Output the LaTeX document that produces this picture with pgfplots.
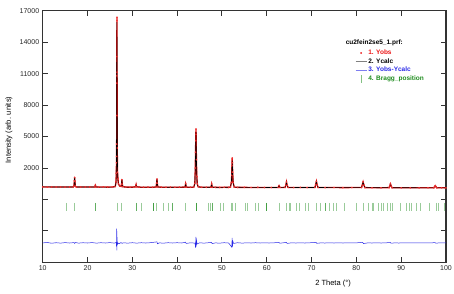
\documentclass[border=0pt]{standalone}
\usepackage{pgfplots}
\pgfplotsset{compat=1.18}
\usepackage{fontspec}
\setmainfont{Liberation Sans}
\definecolor{obsred}{RGB}{235,20,20}
\definecolor{braggg}{RGB}{30,140,30}
\definecolor{difblue}{RGB}{40,40,230}

\begin{document}
\begin{tikzpicture}
\useasboundingbox (-42.7pt,-30.7pt) rectangle (411.3pt,262.3pt);
\begin{axis}[
  scale only axis, width=403.3pt, height=251.6pt,
  xmin=10, xmax=100, ymin=-7000, ymax=17000,
  xtick={10,20,...,100},
  ytick={-4000,-1000,2000,5000,8000,11000,14000,17000},
  yticklabels={,,2000,5000,8000,11000,14000,17000},
  scaled y ticks=false, scaled x ticks=false,
  tick align=inside,
  major tick length=5pt,
  tick style={line width=0.9pt, black!80},
  axis line style={line width=1.3pt, black!80},
  tick label style={font=\fontsize{7}{8}\selectfont, text=black!85},
  /pgf/number format/assume math mode=true,
  xlabel={2 Theta (°)},
  ylabel={Intensity (arb. units)},
  every axis x label/.style={at={(axis description cs:0.72,-0.086)}, anchor=center, font=\fontsize{7.5}{9}\selectfont},
  every axis y label/.style={at={(axis description cs:-0.0836,0.526)}, rotate=90, anchor=center, font=\fontsize{7.5}{9}\selectfont},
  legend style={draw=none, fill=none, at={(rel axis cs:0.774,0.849)}, anchor=north west,
    font=\bfseries\fontsize{6.5}{7.5}\selectfont, row sep=0.3pt, inner sep=0pt,
    nodes={inner sep=1pt}},
  legend cell align=left,
]
\addlegendimage{legend image code/.code={\path[draw=none,fill=none] (0,-1pt) rectangle (11pt,2pt); \fill[obsred,draw=none] (5.5pt,0) circle (1pt);}}
\addlegendentry{\textcolor{obsred}{1. Yobs}}
\addlegendimage{legend image code/.code={\path[draw=none,fill=none] (0,-1pt) rectangle (11pt,2pt); \draw[black!50,line width=1.3pt,fill=none] (0,0) -- (11pt,0);}}
\addlegendentry{2. Ycalc}
\addlegendimage{legend image code/.code={\path[draw=none,fill=none] (0,-1pt) rectangle (11pt,2pt); \draw[difblue!60,line width=0.5pt,fill=none] (0,0) -- (11pt,0);}}
\addlegendentry{\textcolor{difblue}{3. Yobs-Ycalc}}
\addlegendimage{legend image code/.code={\path[draw=none,fill=none] (0,-1pt) rectangle (11pt,2pt); \draw[overlay,braggg!55,line width=0.6pt,fill=none] (5.5pt,-4pt) -- (5.5pt,4pt);}}
\addlegendentry{\textcolor{braggg}{4. Bragg\_position}}

% Yobs
\addplot[forget plot, obsred, line width=1.3pt, mark=*, mark size=0.65pt, mark options={fill=obsred!75, draw=obsred!90, line width=0.3pt}] coordinates {
(10,195) (11,186) (12,192) (13,183) (14,190) (15,180) (16,187) (16.8,181) (16.98,290) (17.06,760) (17.13,1105) (17.2,690) (17.28,270) (17.5,186) (18.5,178) (19.5,186) (20.5,174) (21.6,190) (21.75,355) (21.9,188) (22.5,172) (23.5,181) (24.5,170) (25.5,180) (26.2,235) (26.36,680) (26.42,1500) (26.46,2500) (26.48,3100) (26.5,4280) (26.52,7000) (26.54,10090) (26.55,10790) (26.56,16050) (26.57,16370) (26.58,12620) (26.6,11140) (26.64,3900) (26.7,1600) (26.8,950) (26.9,470) (27.2,270) (27.5,235) (27.6,460) (27.68,890) (27.76,440) (27.9,215) (28.5,176) (29.5,168) (30.3,175) (30.75,210) (30.85,410) (30.95,205) (31.5,172) (32.5,163) (33.5,170) (34.5,162) (35.3,185) (35.42,560) (35.5,950) (35.58,540) (35.7,185) (36.5,166) (37.5,158) (38.5,166) (39.5,157) (40.5,164) (41.75,175) (41.9,500) (42.05,172) (43,160) (43.7,172) (43.95,520) (44.05,2000) (44.1,3500) (44.15,4600) (44.2,5710) (44.25,5200) (44.3,2800) (44.4,1200) (44.5,480) (44.7,205) (45.5,158) (46.5,150) (47.55,165) (47.7,480) (47.85,162) (48.5,150) (49.5,145) (50.5,152) (51.5,146) (51.9,175) (52.1,620) (52.18,1300) (52.23,2200) (52.28,2950) (52.33,2500) (52.4,1600) (52.5,600) (52.75,172) (53.5,145) (55,150) (56.5,140) (58,146) (59.5,138) (61,144) (62.55,142) (62.75,310) (62.95,140) (64.1,148) (64.25,360) (64.4,670) (64.55,350) (64.75,146) (66,134) (67.5,140) (69,130) (70.75,142) (70.9,390) (71.08,725) (71.25,380) (71.45,140) (73,126) (75,132) (77,122) (79,128) (81.15,132) (81.3,355) (81.5,670) (81.7,345) (81.9,126) (83.5,114) (85.5,120) (87.3,122) (87.45,275) (87.6,480) (87.78,265) (87.95,116) (90,106) (92,112) (94,104) (96,110) (97.3,106) (97.45,205) (97.6,310) (97.78,198) (97.95,104) (99,108) (100,100)
};
% Ycalc
\addplot[forget plot, black, line width=0.6pt] coordinates {
(10,190) (12,188) (14,186) (16,184) (16.8,183) (16.98,260) (17.06,700) (17.13,1080) (17.2,700) (17.28,260) (17.5,182) (19,181) (21,179) (21.6,185) (21.75,340) (21.9,185) (22.5,177) (24,176) (25.8,175) (26.2,220) (26.36,600) (26.46,2500) (26.51,8000) (26.56,15900) (26.61,8500) (26.66,3000) (26.76,900) (26.9,450) (27.2,260) (27.5,230) (27.6,450) (27.68,870) (27.76,450) (27.9,210) (28.5,172) (30,170) (30.75,200) (30.85,400) (30.95,200) (32,168) (34,166) (35.3,180) (35.42,550) (35.5,940) (35.58,550) (35.7,180) (38,162) (41.75,170) (41.9,490) (42.05,170) (43.7,170) (43.95,500) (44.08,2400) (44.2,5450) (44.32,2400) (44.45,500) (44.7,200) (45.5,155) (47.55,160) (47.7,470) (47.85,160) (50,150) (51.9,170) (52.1,600) (52.2,1500) (52.3,2700) (52.4,1500) (52.5,600) (52.75,170) (55,145) (60,140) (62.55,140) (62.75,305) (62.95,140) (64.1,145) (64.25,350) (64.4,660) (64.55,350) (64.75,145) (68,132) (70.75,140) (70.9,380) (71.08,715) (71.25,380) (71.45,140) (75,125) (80,120) (81.15,130) (81.3,350) (81.5,660) (81.7,350) (81.9,125) (85,115) (87.3,120) (87.45,270) (87.6,475) (87.78,270) (87.95,115) (92,108) (97.3,105) (97.45,200) (97.6,305) (97.78,200) (97.95,103) (100,100)
};
% Bragg positions
\addplot[forget plot, only marks, mark=|, mark size=4.2pt, mark options={line width=0.6pt, draw=braggg, draw opacity=0.45}] coordinates {
(15.35,-1730) (17.05,-1730) (21.8,-1730) (21.8,-1730) (26.7,-1730) (27.6,-1730) (30.95,-1730) (30.95,-1730) (32.07,-1730) (34.7,-1730) (34.7,-1730) (34.7,-1730) (35.4,-1730) (36.9,-1730) (38.0,-1730) (38.9,-1730) (38.9,-1730) (41.9,-1730) (44.3,-1730) (44.3,-1730) (44.3,-1730) (46.9,-1730) (47.4,-1730) (47.8,-1730) (47.8,-1730) (49.67,-1730) (50.4,-1730) (52.1,-1730) (52.35,-1730) (52.9,-1730) (55.25,-1730) (55.7,-1730) (57.55,-1730) (58.07,-1730) (59.93,-1730) (59.93,-1730) (59.93,-1730) (62.75,-1730) (64.39,-1730) (64.98,-1730) (65.28,-1730) (66.6,-1730) (67.2,-1730) (68.7,-1730) (69.2,-1730) (71.07,-1730) (71.96,-1730) (73.15,-1730) (73.15,-1730) (73.9,-1730) (74.79,-1730) (75.5,-1730) (77.4,-1730) (80.0,-1730) (81.5,-1730) (82.7,-1730) (83.5,-1730) (83.85,-1730) (84.8,-1730) (85.6,-1730) (85.95,-1730) (86.8,-1730) (87.6,-1730) (88.0,-1730) (89.8,-1730) (91.1,-1730) (91.9,-1730) (92.25,-1730) (93.4,-1730) (94.3,-1730) (96.2,-1730) (97.8,-1730) (98.2,-1730) (99.7,-1730)
};
% Yobs - Ycalc
\addplot[forget plot, difblue, line width=0.5pt] coordinates {
(10,-5150) (11,-5110) (12,-5180) (13,-5130) (14,-5170) (15,-5120) (16,-5160) (17,-5120) (17.13,-5200) (17.3,-5110) (18,-5170) (19,-5130) (20,-5160) (21,-5120) (22,-5170) (23,-5130) (24,-5160) (25,-5120) (26,-5170) (26.4,-5100) (26.48,-5500) (26.52,-3780) (26.56,-5870) (26.6,-4600) (26.66,-5300) (26.8,-5150) (27,-5220) (27.5,-5120) (27.7,-5190) (28,-5140) (29,-5170) (30,-5130) (31,-5170) (32,-5130) (33,-5160) (34,-5130) (35.5,-5050) (35.6,-5230) (36,-5150) (37,-5170) (38,-5130) (39,-5160) (40,-5130) (41,-5160) (41.9,-5080) (42,-5200) (43,-5140) (44,-5170) (44.12,-5610) (44.18,-4570) (44.25,-5500) (44.32,-4900) (44.45,-5250) (45,-5140) (46,-5170) (47,-5130) (47.7,-5090) (47.8,-5210) (48.5,-5150) (49.5,-5170) (50.5,-5130) (51.5,-5160) (52.2,-5560) (52.27,-4660) (52.35,-5500) (52.45,-5000) (52.6,-5200) (53.5,-5130) (54.5,-5170) (55.5,-5140) (56.5,-5160) (57.5,-5130) (58.5,-5160) (59.5,-5140) (60.5,-5160) (61.5,-5140) (62.75,-5110) (62.9,-5180) (63.5,-5150) (64.4,-5100) (64.55,-5200) (65.5,-5140) (66.5,-5160) (67.5,-5140) (68.5,-5160) (69.5,-5140) (71.0,-5100) (71.15,-5190) (72,-5150) (73,-5160) (74,-5140) (75,-5160) (76,-5140) (77,-5160) (78,-5140) (79,-5155) (80,-5145) (81.4,-5090) (81.55,-5210) (82.5,-5150) (83.5,-5160) (84.5,-5140) (85.5,-5160) (86.5,-5145) (87.6,-5110) (87.7,-5180) (88.5,-5150) (89.5,-5160) (90.5,-5145) (91.5,-5155) (92.5,-5145) (93.5,-5155) (94.5,-5145) (95.5,-5155) (96.5,-5145) (97.6,-5125) (97.7,-5170) (98.5,-5150) (99.5,-5155) (100,-5150)
};
\node[anchor=west, font=\bfseries\fontsize{6.5}{7.5}\selectfont, inner sep=0pt] at (rel axis cs:0.751,0.874) {cu2fein2se5\_1.prf:};
\end{axis}
\end{tikzpicture}
\end{document}
